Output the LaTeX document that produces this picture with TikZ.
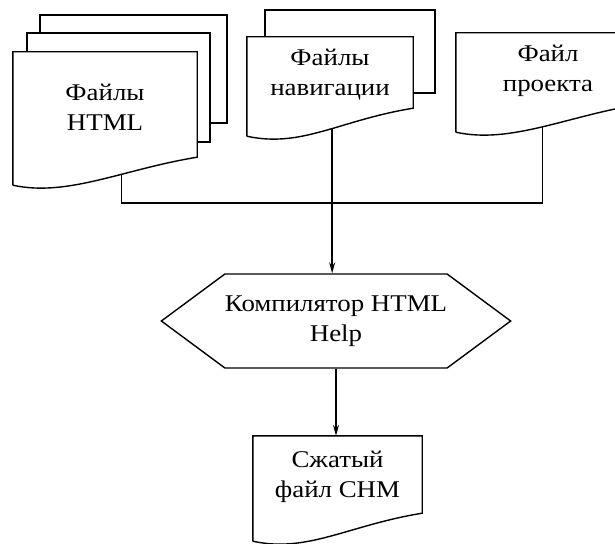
\documentclass[tikz,border=0pt]{standalone}
\usepackage{fontspec}
\setmainfont[FakeStretch=1.12]{Liberation Serif}
\usetikzlibrary{calc}
\usetikzlibrary{positioning}
\usetikzlibrary{shapes}
\usetikzlibrary{arrows.meta}

\tikzset{
  docnode/.style={fill=white, align=center, inner sep=0pt, font=\fontsize{24}{30}\selectfont},
  docline/.style={line width=1.4pt, line join=miter},
  conline/.style={line width=1.4pt},
  conarrow/.style={line width=1.4pt, -{Stealth[length=11pt,width=6pt]}},
  compnode/.style={draw, line width=1.4pt, signal, signal to=west and east, signal pointer angle=73,
    align=center, inner sep=0pt, font=\fontsize{24}{30}\selectfont},
}

% outline of a document page with a wavy bottom, drawn round a named node
\newcommand{\docshape}[2]{%
  \draw[docline] ([yshift=-23pt]#1.south west) -- (#1.north west) -- (#1.north east)
    -- ([yshift=5pt]#1.south east) .. controls +(-74,12) and +(55,12) .. ([yshift=-23pt]#1.south west)
    coordinate[pos=#2] (#1-out);}

\begin{document}
\begin{tikzpicture}[x=1pt, y=-1pt]
  \useasboundingbox (0,0) rectangle (615,543);
  \clip (0,0) rectangle (615,543);

  % pages behind the front ones
  \draw[docline, fill=white] (40,15) rectangle (227,123);
  \draw[docline, fill=white] (27,33) rectangle (210,142);
  \draw[docline, fill=white] (265,10) rectangle (435,93);

  \node[docnode, minimum width=184, minimum height=110] (html) at (105,107) {Файлы\\HTML};
  \node[docnode, minimum width=166, minimum height=76] (nav) at (330,75) {Файлы\\навигации};
  \node[docnode, minimum width=184, minimum height=76] (proj) at (548,71) {Файл\\проекта};
  \node[compnode, minimum width=348, minimum height=94] (comp) at (336,321) {Компилятор HTML\\Help};
  \node[docnode, minimum width=169, minimum height=82] (chm) at (337.5,477) {Сжатый\\файл CHM};

  \docshape{html}{0.37}
  \docshape{nav}{0.44}
  \docshape{proj}{0.49}
  \docshape{chm}{0.5}

  \coordinate (join) at (332,203);
  \draw[conline] (html-out) |- (join) -| (proj-out);
  \draw[conarrow] (nav-out) -- (nav-out |- comp.north);
  \draw[conarrow] (comp.south) -- (comp.south |- chm.north);
\end{tikzpicture}
\end{document}
